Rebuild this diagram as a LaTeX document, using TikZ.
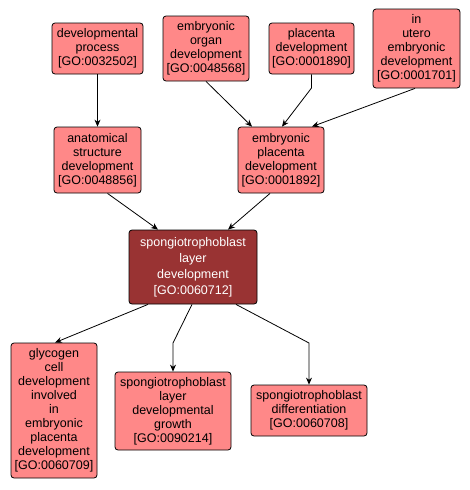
\documentclass[tikz,border=0pt]{standalone}
\usepackage{fontspec}
\setmainfont{Liberation Sans}
\usetikzlibrary{arrows.meta}
\definecolor{lightgo}{RGB}{255,136,136}
\definecolor{darkgo}{RGB}{153,51,51}
\tikzset{
  goterm/.style={draw=black, line width=0.8pt, fill=lightgo, rounded corners=3pt,
    inner sep=0pt, align=center, text=black,
    font=\fontsize{12.5pt}{14pt}\selectfont},
  goterm dark/.style={goterm, fill=darkgo, text=white,
    font=\fontsize{12.5pt}{16pt}\selectfont},
  link/.style={draw=black, line width=0.8pt, -{Stealth[length=7pt,width=6pt]}}
}
\begin{document}
\begin{tikzpicture}[x=1pt,y=-1pt]
\useasboundingbox (0,0) rectangle (470,490);
\node[goterm, minimum width=91pt, minimum height=51pt] (devproc) at (97.5,48.5) {developmental\\process\\{[GO:0032502]}};
\node[goterm, minimum width=86pt, minimum height=65pt] (emborg) at (206,48.5) {embryonic\\organ\\development\\{[GO:0048568]}};
\node[goterm, minimum width=85pt, minimum height=51pt] (placenta) at (311.5,48.5) {placenta\\development\\{[GO:0001890]}};
\node[goterm, minimum width=87pt, minimum height=79pt] (inutero) at (416.5,48.5) {in\\utero\\embryonic\\development\\{[GO:0001701]}};
\node[goterm, minimum width=87pt, minimum height=66pt] (anat) at (97.5,160) {anatomical\\structure\\development\\{[GO:0048856]}};
\node[goterm, minimum width=86pt, minimum height=66pt] (embplac) at (281,160) {embryonic\\placenta\\development\\{[GO:0001892]}};
\node[goterm dark, minimum width=128pt, minimum height=74pt] (spongio) at (193,267) {spongiotrophoblast\\layer\\development\\{[GO:0060712]}};
\node[goterm, minimum width=86pt, minimum height=135pt] (glyco) at (54,410.5) {glycogen\\cell\\development\\involved\\in\\embryonic\\placenta\\development\\{[GO:0060709]}};
\node[goterm, minimum width=116pt, minimum height=78pt] (growth) at (173,411) {spongiotrophoblast\\layer\\developmental\\growth\\{[GO:0090214]}};
\node[goterm, minimum width=116pt, minimum height=51pt] (diff) at (309,410.5) {spongiotrophoblast\\differentiation\\{[GO:0060708]}};
\coordinate (bendA) at (311.5,88);
\coordinate (bendB) at (173,343);
\coordinate (bendC) at (309,343);
\draw[link] (devproc.south) -- (anat.north);
\draw[link] (emborg.south) -- ([xshift=-29pt]embplac.north);
\draw[link] (placenta.south) -- (bendA) -- ([xshift=1pt]embplac.north);
\draw[link] ([xshift=-1.5pt]inutero.south) -- ([xshift=31pt]embplac.north);
\draw[link] ([xshift=10pt]anat.south) -- ([xshift=-35pt]spongio.north);
\draw[link] ([xshift=-11pt]embplac.south) -- ([xshift=35pt]spongio.north);
\draw[link] ([xshift=-45pt]spongio.south) -- ([xshift=1pt]glyco.north);
\draw[link] ([xshift=-1pt]spongio.south) -- (bendB) -- (growth.north);
\draw[link] ([xshift=43pt]spongio.south) -- (bendC) -- (diff.north);
\end{tikzpicture}
\end{document}
